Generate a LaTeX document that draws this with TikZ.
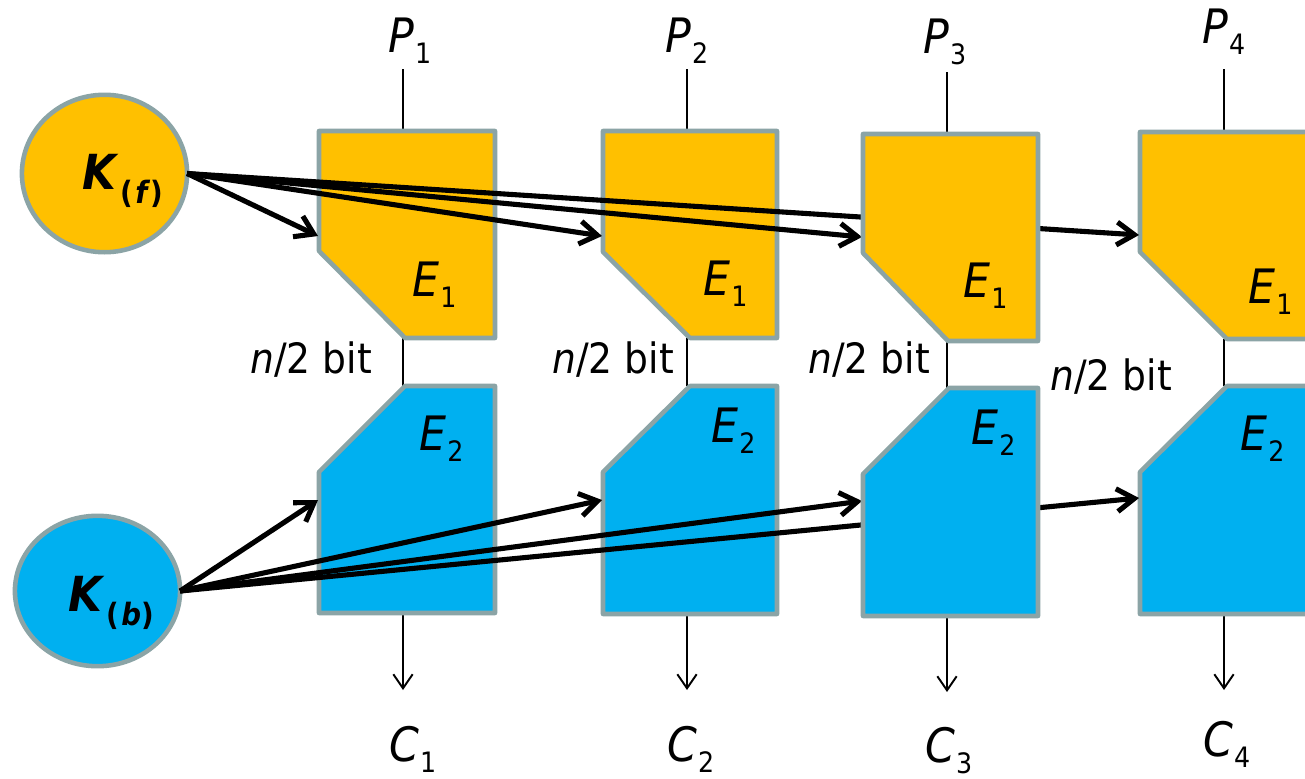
\documentclass[tikz,border=0pt]{standalone}
\usepackage{fontspec}
\setmainfont{DejaVu Sans Condensed}
\usepackage{graphicx}
\usetikzlibrary{arrows.meta,shapes.geometric}
\definecolor{kyel}{RGB}{255,192,0}
\definecolor{kblu}{RGB}{0,176,240}
\definecolor{kgry}{RGB}{139,164,166}
\newcommand\mylab[2]{\textit{#1}\kern0.02em\raisebox{-0.24em}{\fontsize{16}{16}\selectfont #2}}
\newcommand\keylab[2]{\textit{#1}\kern0.03em\raisebox{-0.29em}{\fontsize{17.5}{18}\selectfont (\kern0.08em\textit{#2})}}
\tikzset{
  lab/.style={anchor=base west, inner sep=0pt, font=\fontsize{27}{30}\selectfont},
  bitlab/.style={anchor=base west, inner sep=0pt, font=\fontsize{23.8}{28}\selectfont},
  klab/.style={anchor=base west, inner sep=0pt, font=\fontsize{27.5}{30}\selectfont\bfseries},
  e1box/.style={draw=kgry, fill=kyel, line width=2.6pt, line join=round},
  e2box/.style={draw=kgry, fill=kblu, line width=2.6pt, line join=round},
  keynode/.style={ellipse, draw=kgry, line width=2.6pt, inner sep=0pt, outer sep=0pt},
  wire/.style={line width=1.1pt},
  outarrow/.style={wire, -{Straight Barb[length=8pt,width=11pt]}},
  keyarrow/.style={line width=2.9pt, -{Straight Barb[length=10pt,width=13pt]}},
}
\newcommand\eonebox[6]{% L R T B CY CX
  \draw[e1box] (#1,#3) -- (#2,#3) -- (#2,#4) -- (#6,#4) -- (#1,#5) -- cycle;}
\newcommand\etwobox[6]{% L R T B CY CX
  \draw[e2box] (#6,#3) -- (#2,#3) -- (#2,#4) -- (#1,#4) -- (#1,#5) -- cycle;}
\begin{document}
\begin{tikzpicture}[x=0.02cm,y=-0.02cm]
\clip (0,0) rectangle (1305,778);
\fill[white] (0,0) rectangle (1305,778);

% named points
\coordinate (t1) at (403,69);  \coordinate (u1) at (403,131);
\coordinate (t2) at (687,69);  \coordinate (u2) at (687,131);
\coordinate (t3) at (947,72);  \coordinate (u3) at (947,134);
\coordinate (t4) at (1224,69); \coordinate (u4) at (1224,132);
\coordinate (m1a) at (403,338); \coordinate (m1b) at (403,386);
\coordinate (m2a) at (687,338); \coordinate (m2b) at (687,386);
\coordinate (m3a) at (947,341); \coordinate (m3b) at (947,388);
\coordinate (m4a) at (1224,339); \coordinate (m4b) at (1224,386);
\coordinate (b1a) at (403,613); \coordinate (b1b) at (403,690);
\coordinate (b2a) at (687,614); \coordinate (b2b) at (687,690);
\coordinate (b3a) at (947,616); \coordinate (b3b) at (947,692);
\coordinate (b4a) at (1224,614); \coordinate (b4b) at (1224,690);

% wires
\draw[wire] (t1) -- (u1);
\draw[wire] (t2) -- (u2);
\draw[wire] (t3) -- (u3);
\draw[wire] (t4) -- (u4);
\draw[wire] (m1a) -- (m1b);
\draw[wire] (m2a) -- (m2b);
\draw[wire] (m3a) -- (m3b);
\draw[wire] (m4a) -- (m4b);
\draw[outarrow] (b1a) -- (b1b);
\draw[outarrow] (b2a) -- (b2b);
\draw[outarrow] (b3a) -- (b3b);
\draw[outarrow] (b4a) -- (b4b);

% blocks (col 1, 2, 4)
\eonebox{319}{495}{131}{338}{251}{405}
\etwobox{319}{495}{386}{613}{472}{405}
\eonebox{603}{777}{131}{338}{252}{690}
\etwobox{603}{777}{386}{614}{472}{690}
\eonebox{1140}{1330}{132}{339}{252}{1227}
\etwobox{1140}{1330}{386}{614}{472}{1227}

% keys
\node[keynode, fill=kyel, minimum width=94pt, minimum height=89.6pt] (kf) at (104.5,173.5) {};
\node[keynode, fill=kblu, minimum width=94pt, minimum height=85.6pt] (kb) at (97.5,591) {};

% key arrow targets
\coordinate (f1) at (318,236);
\coordinate (f2) at (602,236);
\coordinate (f3) at (862,237);
\coordinate (f4) at (1139,235);
\coordinate (g1) at (318,500);
\coordinate (g2) at (602,500);
\coordinate (g3) at (862,501);
\coordinate (g4) at (1139,498);

\draw[keyarrow] (kf.east) -- (f1);
\draw[keyarrow] (kf.east) -- (f2);
\draw[keyarrow] (kf.east) -- (f3);
\draw[keyarrow] (kf.east) -- (f4);
\draw[keyarrow] (kb.east) -- (g1);
\draw[keyarrow] (kb.east) -- (g2);
\draw[keyarrow] (kb.east) -- (g3);
\draw[keyarrow] (kb.east) -- (g4);

% column 3 blocks on top
\eonebox{863}{1038}{134}{341}{253}{948}
\etwobox{863}{1038}{388}{616}{474}{949}

% labels
\node[klab] (kft) at (82,189) {\keylab{K}{f}};
\node[klab] (kbt) at (68,611) {\keylab{K}{b}};

\node[lab] (p1) at (388,52) {\mylab{P}{1}};
\node[lab] (p2) at (665,52) {\mylab{P}{2}};
\node[lab] (p3) at (923,53) {\mylab{P}{3}};
\node[lab] (p4) at (1202,43) {\mylab{P}{4}};

\node[lab] (e11) at (412,296) {\mylab{E}{1}};
\node[lab] (e12) at (703,295) {\mylab{E}{1}};
\node[lab] (e13) at (963,297) {\mylab{E}{1}};
\node[lab] (e14) at (1248,303) {\mylab{E}{1}};

\node[lab] (e21) at (419,450) {\mylab{E}{2}};
\node[lab] (e22) at (711,442) {\mylab{E}{2}};
\node[lab] (e23) at (971,444) {\mylab{E}{2}};
\node[lab] (e24) at (1240,450) {\mylab{E}{2}};

\node[lab] (c1) at (389,761) {\mylab{C}{1}};
\node[lab] (c2) at (667,761) {\mylab{C}{2}};
\node[lab] (c3) at (925,762) {\mylab{C}{3}};
\node[lab] (c4) at (1203,756) {\mylab{C}{4}};

\node[bitlab] (n1) at (250,373) {\textit{n}/2 bit};
\node[bitlab] (n2) at (552,373) {\textit{n}/2 bit};
\node[bitlab] (n3) at (808,373) {\textit{n}/2 bit};
\node[bitlab] (n4) at (1050,390) {\textit{n}/2 bit};
\end{tikzpicture}
\end{document}
